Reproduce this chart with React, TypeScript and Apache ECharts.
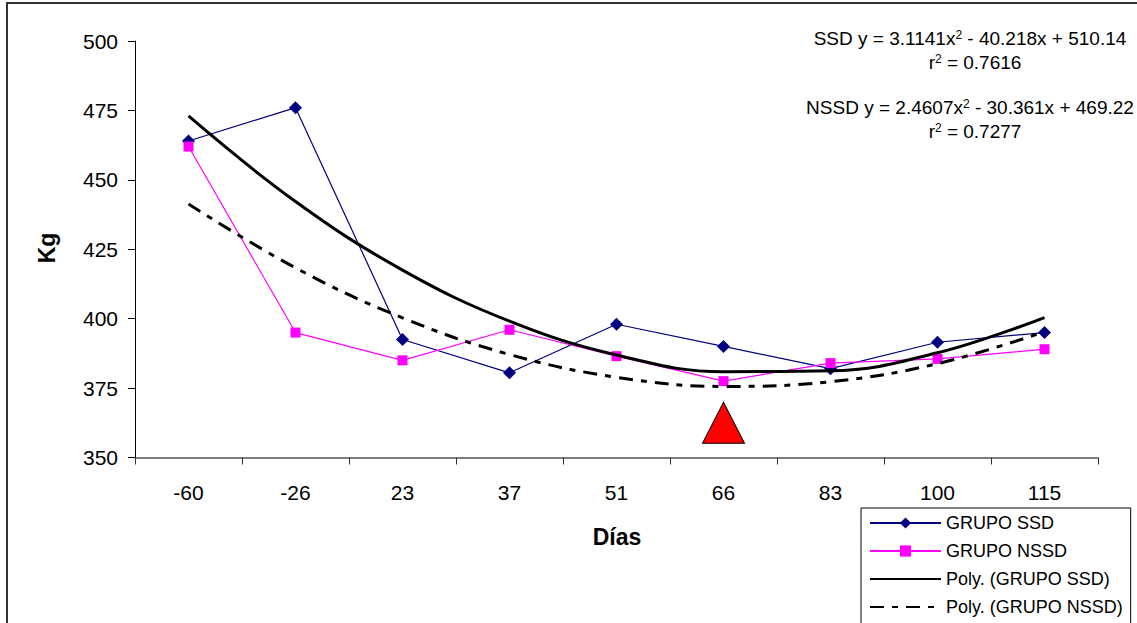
import React, { useEffect, useRef } from "react";
import * as echarts from "echarts";

const categories = ["-60", "-26", "23", "37", "51", "66", "83", "100", "115"];
const grupoSSD = [464, 476, 392.5, 380.5, 398, 390, 382, 391.5, 395];
const grupoNSSD = [462, 395, 385, 396, 386.5, 377.5, 384, 385.5, 389];
const polySSD = [473.0, 442.2, 417.5, 399.1, 386.9, 380.9, 381.2, 387.7, 400.4];
const polyNSSD = [441.3, 418.3, 400.3, 387.1, 378.9, 375.6, 377.3, 383.8, 395.3];
const yTicks = [350, 375, 400, 425, 450, 475, 500];
const markerCategory = "66";
const markerValue = 362.5;
const seriesNames = ["GRUPO SSD", "GRUPO NSSD", "Poly. (GRUPO SSD)", "Poly. (GRUPO NSSD)"];
const eqSSD = ["SSD y = 3.1141x", "2", " - 40.218x + 510.14"];
const r2SSD = ["r", "2", " = 0.7616"];
const eqNSSD = ["NSSD y = 2.4607x", "2", " - 30.361x + 469.22"];
const r2NSSD = ["r", "2", " = 0.7277"];

const FONT = "'Liberation Sans', Arial, sans-serif";

function richText(parts: string[]) {
  return `{a|${parts[0]}}{s|${parts[1]}}{a|${parts[2]}}`;
}

export default function App() {
  const ref = useRef<HTMLDivElement>(null);
  useEffect(() => {
    if (!ref.current) return;
    const chart = echarts.init(ref.current, undefined, { renderer: "svg" });
    const rich = {
      a: { fontSize: 19, fontFamily: FONT, fill: "#000", color: "#000" },
      s: { fontSize: 12, fontFamily: FONT, fill: "#000", color: "#000", verticalAlign: "top" },
    };
    const eqText = (parts: string[], x: number, y: number) => ({
      type: "text",
      x,
      y,
      style: {
        text: richText(parts),
        rich,
        align: "center",
        verticalAlign: "middle",
        fill: "#000",
      },
    });
    const hiddenSymbol = { color: "rgba(0,0,0,0)", borderWidth: 0 };
    chart.setOption({
      animation: false,
      backgroundColor: "#fff",
      grid: { left: 135, top: 41, width: 963, height: 416.5 },
      xAxis: {
        type: "category",
        data: categories,
        boundaryGap: true,
        axisLine: { lineStyle: { color: "#555", width: 1.5 } },
        axisTick: { show: true, length: 7, inside: false, lineStyle: { color: "#333" } },
        axisLabel: { fontSize: 21, fontFamily: FONT, color: "#000", margin: 24 },
        splitLine: { show: false },
      },
      yAxis: {
        type: "value",
        min: yTicks[0],
        max: yTicks[yTicks.length - 1],
        interval: 25,
        axisLine: { show: true, lineStyle: { color: "#000", width: 1 } },
        axisTick: { show: true, length: 7, lineStyle: { color: "#000" } },
        axisLabel: { fontSize: 21, fontFamily: FONT, color: "#000", margin: 17 },
        splitLine: { show: false },
      },
      legend: {
        orient: "vertical",
        left: 861,
        top: 508,
        height: 140,
        padding: [6, 8, 8, 8],
        backgroundColor: "#fff",
        borderColor: "#000",
        borderWidth: 1,
        itemWidth: 71,
        itemHeight: 14,
        itemGap: 10,
        textStyle: { fontSize: 18, fontFamily: FONT, color: "#000" },
        data: [
          { name: seriesNames[0] },
          { name: seriesNames[1] },
          { name: seriesNames[2], itemStyle: hiddenSymbol },
          { name: seriesNames[3], itemStyle: hiddenSymbol },
        ],
      },
      series: [
        {
          name: seriesNames[0],
          type: "line",
          data: grupoSSD,
          symbol: "diamond",
          symbolSize: 13,
          color: "#000080",
          lineStyle: { color: "#000080", width: 1.2 },
          itemStyle: { color: "#000080" },
          z: 3,
          markPoint: {
            symbol: "triangle",
            symbolSize: [42, 41],
            label: { show: false },
            itemStyle: { color: "#FF0000", borderColor: "#000", borderWidth: 1 },
            data: [{ coord: [markerCategory, markerValue] }],
          },
        },
        {
          name: seriesNames[1],
          type: "line",
          data: grupoNSSD,
          symbol: "rect",
          symbolSize: 10,
          color: "#FF00FF",
          lineStyle: { color: "#FF00FF", width: 1.2 },
          itemStyle: { color: "#FF00FF" },
          z: 3,
        },
        {
          name: seriesNames[2],
          type: "line",
          data: polySSD,
          symbol: "none",
          smooth: 0.4,
          color: "#000",
          lineStyle: { color: "#000", width: 3 },
          z: 4,
        },
        {
          name: seriesNames[3],
          type: "line",
          data: polyNSSD,
          symbol: "none",
          smooth: 0.4,
          color: "#000",
          lineStyle: { color: "#000", width: 3, type: [14, 8, 6, 8] },
          z: 4,
        },
      ],
      graphic: [
        {
          type: "rect",
          shape: { x: 7, y: 3, width: 1200, height: 700 },
          style: { fill: "none", stroke: "#333", lineWidth: 2 },
          silent: true,
          z: 100,
        },
        {
          type: "text",
          x: 47,
          y: 248,
          rotation: Math.PI / 2,
          style: {
            text: "Kg",
            font: `bold 23px ${FONT}`,
            fill: "#000",
            align: "center",
            verticalAlign: "middle",
          },
        },
        {
          type: "text",
          x: 617,
          y: 537,
          style: {
            text: "Días",
            font: `bold 23px ${FONT}`,
            fill: "#000",
            align: "center",
            verticalAlign: "middle",
          },
        },
        eqText(eqSSD, 970, 38),
        eqText(r2SSD, 975, 62),
        eqText(eqNSSD, 970, 107),
        eqText(r2NSSD, 975, 131),
      ],
    });
    return () => chart.dispose();
  }, []);
  return (
    <div
      ref={ref}
      style={{ position: "fixed", left: 0, top: 0, width: 1137, height: 623 }}
    />
  );
}
